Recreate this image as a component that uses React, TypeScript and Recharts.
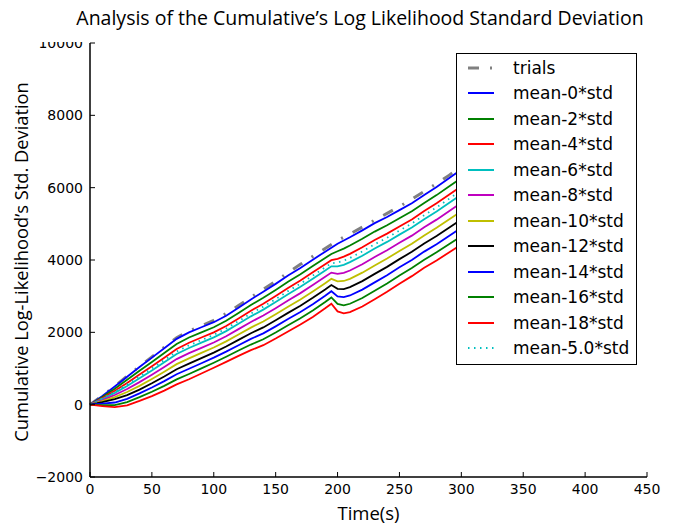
import { Label, Legend, Line, LineChart, XAxis, YAxis } from "recharts";

// time points (s)
const times = [
  0, 10, 20, 30, 40, 50, 60, 70, 80, 90, 100, 110, 120, 130, 140, 150, 160, 170, 180, 190,
  195, 200, 205, 210, 220, 230, 240, 250, 260, 270, 280, 290, 300,
];

const trials = [
  0, 250, 510, 790, 1060, 1320, 1590, 1850, 2040, 2180, 2330, 2520, 2740, 2970, 3190, 3410, 3650, 3880, 4100, 4320,
  4430, 4540, 4630, 4720, 4910, 5100, 5290, 5480, 5680, 5900, 6110, 6340, 6580,
];
const mean0 = [
  0, 240, 500, 770, 1040, 1300, 1560, 1820, 2000, 2140, 2280, 2460, 2680, 2910, 3120, 3340, 3570, 3780, 4010, 4230,
  4340, 4450, 4540, 4630, 4820, 5020, 5190, 5380, 5570, 5800, 6020, 6260, 6500,
];
const mean2 = [
  0, 212, 442, 686, 936, 1182, 1430, 1680, 1856, 1998, 2140, 2318, 2532, 2754, 2956, 3172, 3398, 3606, 3834, 4056,
  4168, 4242, 4316, 4400, 4586, 4786, 4960, 5154, 5346, 5576, 5794, 6032, 6270,
];
const mean4 = [
  0, 184, 384, 602, 832, 1064, 1300, 1540, 1712, 1856, 2000, 2176, 2384, 2598, 2792, 3004, 3226, 3432, 3658, 3882,
  3996, 4034, 4092, 4170, 4352, 4552, 4730, 4928, 5122, 5352, 5568, 5804, 6040,
];
const mean6 = [
  0, 156, 326, 518, 728, 946, 1170, 1400, 1568, 1714, 1860, 2034, 2236, 2442, 2628, 2836, 3054, 3258, 3482, 3708,
  3824, 3826, 3868, 3940, 4118, 4318, 4500, 4702, 4898, 5128, 5342, 5576, 5810,
];
const mean8 = [
  0, 128, 268, 434, 624, 828, 1040, 1260, 1424, 1572, 1720, 1892, 2088, 2286, 2464, 2668, 2882, 3084, 3306, 3534,
  3652, 3618, 3644, 3710, 3884, 4084, 4270, 4476, 4674, 4904, 5116, 5348, 5580,
];
const mean10 = [
  0, 100, 210, 350, 520, 710, 910, 1120, 1280, 1430, 1580, 1750, 1940, 2130, 2300, 2500, 2710, 2910, 3130, 3360,
  3480, 3410, 3420, 3480, 3650, 3850, 4040, 4250, 4450, 4680, 4890, 5120, 5350,
];
const mean12 = [
  0, 72, 152, 266, 416, 592, 780, 980, 1136, 1288, 1440, 1608, 1792, 1974, 2136, 2332, 2538, 2736, 2954, 3186,
  3308, 3202, 3196, 3250, 3416, 3616, 3810, 4024, 4226, 4456, 4664, 4892, 5120,
];
const mean14 = [
  0, 30, 60, 160, 312, 474, 650, 840, 992, 1146, 1300, 1466, 1644, 1818, 1972, 2164, 2366, 2562, 2778, 3012,
  3136, 2994, 2972, 3020, 3182, 3382, 3580, 3798, 4002, 4232, 4438, 4664, 4890,
];
const mean16 = [
  0, -10, -10, 70, 208, 356, 520, 700, 848, 1004, 1160, 1324, 1496, 1662, 1808, 1996, 2194, 2388, 2602, 2838,
  2964, 2786, 2748, 2790, 2948, 3148, 3350, 3572, 3778, 4008, 4212, 4436, 4660,
];
const mean18 = [
  0, -40, -70, -20, 104, 238, 390, 560, 704, 862, 1020, 1182, 1348, 1506, 1644, 1828, 2022, 2214, 2426, 2664,
  2792, 2578, 2524, 2560, 2714, 2914, 3120, 3346, 3554, 3784, 3986, 4208, 4430,
];
const mean5 = [
  0, 170, 355, 560, 780, 1005, 1235, 1470, 1640, 1785, 1930, 2105, 2310, 2520, 2710, 2920, 3140, 3345, 3570, 3795,
  3910, 3930, 3980, 4055, 4235, 4435, 4615, 4815, 5010, 5240, 5455, 5690, 5925,
];

const xTicks = [0, 50, 100, 150, 200, 250, 300, 350, 400, 450];
const yTicks = [-2000, 0, 2000, 4000, 6000, 8000, 10000];

const series = [
  { key: "trials", name: "trials", values: trials, color: "#808080", width: 3, dash: "11 11 2 11" },
  { key: "m0", name: "mean-0*std", values: mean0, color: "#0000ff", width: 1.8 },
  { key: "m2", name: "mean-2*std", values: mean2, color: "#008000", width: 1.8 },
  { key: "m4", name: "mean-4*std", values: mean4, color: "#ff0000", width: 1.8 },
  { key: "m6", name: "mean-6*std", values: mean6, color: "#00bfbf", width: 1.8 },
  { key: "m8", name: "mean-8*std", values: mean8, color: "#bf00bf", width: 1.8 },
  { key: "m10", name: "mean-10*std", values: mean10, color: "#bfbf00", width: 1.8 },
  { key: "m12", name: "mean-12*std", values: mean12, color: "#000000", width: 1.8 },
  { key: "m14", name: "mean-14*std", values: mean14, color: "#0000ff", width: 1.8 },
  { key: "m16", name: "mean-16*std", values: mean16, color: "#008000", width: 1.8 },
  { key: "m18", name: "mean-18*std", values: mean18, color: "#ff0000", width: 1.8 },
  { key: "m5", name: "mean-5.0*std", values: mean5, color: "#00bfbf", width: 1.8, dash: "1.5 4.5" },
];

const data = times.map((t, i) => {
  const row: Record<string, number> = { t };
  series.forEach((s) => {
    row[s.key] = s.values[i];
  });
  return row;
});

const tickFont = "'DejaVu Sans', sans-serif";
const labelFont = "'Open Sans', sans-serif";
const fmt = (v: number) => (v < 0 ? "\u2212" + Math.abs(v) : String(v));

const BottomTick = ({ x, y, payload }: any) => (
  <g>
    <line x1={x} x2={x} y1={y} y2={y - 5} stroke="#000" strokeWidth={1} />
    <text x={x} y={y + 17} textAnchor="middle" fontSize={14} fontFamily={tickFont} fill="#000">
      {fmt(payload.value)}
    </text>
  </g>
);
const TopTick = ({ x, y }: any) => <line x1={x} x2={x} y1={y} y2={y + 5} stroke="#000" strokeWidth={1} />;
const LeftTick = ({ x, y, payload }: any) => (
  <g>
    <line x1={x} x2={x + 5} y1={y} y2={y} stroke="#000" strokeWidth={1} />
    <text x={x - 7} y={y + 5} textAnchor="end" fontSize={14} fontFamily={tickFont} fill="#000">
      {fmt(payload.value)}
    </text>
  </g>
);
const RightTick = ({ x, y }: any) => <line x1={x} x2={x - 5} y1={y} y2={y} stroke="#000" strokeWidth={1} />;

const renderLegend = () => (
  <div
    style={{
      border: "1px solid #000",
      background: "#fff",
      width: 179,
      padding: "1px 0 3px 0",
      fontFamily: tickFont,
      fontSize: 17,
      color: "#000",
    }}
  >
    {series.map((s) => (
      <div key={s.key} style={{ display: "flex", alignItems: "center", height: 25.5 }}>
        <svg width={26} height={6} style={{ marginLeft: 11, marginRight: 19, flex: "none" }}>
          <line x1={0} x2={26} y1={3} y2={3} stroke={s.color} strokeWidth={s.key === "trials" ? 3 : 2} strokeDasharray={s.dash} />
        </svg>
        <span style={{ whiteSpace: "nowrap" }}>{s.name}</span>
      </div>
    ))}
  </div>
);

export default function App() {
  return (
    <div style={{ position: "absolute", left: 0, top: 0, width: 683, height: 524, background: "#fff" }}>
      <LineChart width={683} height={524} data={data} margin={{ top: 43, right: 36, bottom: 0, left: 0 }}>
        <XAxis
          dataKey="t"
          type="number"
          domain={[0, 450]}
          ticks={xTicks}
          height={47}
          tickSize={0}
          tickMargin={0}
          tick={<BottomTick />}
          axisLine={{ stroke: "#000", strokeWidth: 1.5 }}
          tickLine={false}
        >
          <Label value="Time(s)" position="insideBottom" offset={4} fontSize={18.5} fontFamily={labelFont} fill="#000" />
        </XAxis>
        <XAxis
          xAxisId="top"
          orientation="top"
          type="number"
          domain={[0, 450]}
          ticks={xTicks}
          height={0}
          tickSize={0}
          tickMargin={0}
          tick={<TopTick />}
          axisLine={{ stroke: "#000", strokeWidth: 1.5 }}
          tickLine={false}
        />
        <YAxis
          type="number"
          domain={[-2000, 10000]}
          ticks={yTicks}
          width={90}
          tickSize={0}
          tickMargin={0}
          tick={<LeftTick />}
          axisLine={{ stroke: "#000", strokeWidth: 1.5 }}
          tickLine={false}
        >
          <Label
            content={() => (
              <text
                transform="translate(28, 262) rotate(-90)"
                textAnchor="middle"
                fontSize={18.3}
                fontFamily={labelFont}
                fill="#000"
              >
                Cumulative Log-Likelihood’s Std. Deviation
              </text>
            )}
          />
        </YAxis>
        <YAxis
          yAxisId="right"
          orientation="right"
          type="number"
          domain={[-2000, 10000]}
          ticks={yTicks}
          width={0}
          tickSize={0}
          tickMargin={0}
          tick={<RightTick />}
          axisLine={{ stroke: "#000", strokeWidth: 1.5 }}
          tickLine={false}
        />
        {series.map((s) => (
          <Line
            key={s.key}
            dataKey={s.key}
            name={s.name}
            type="linear"
            stroke={s.color}
            strokeWidth={s.width}
            strokeDasharray={s.dash}
            dot={false}
            activeDot={false}
            isAnimationActive={false}
          />
        ))}
        <Legend
          layout="vertical"
          align="center"
          verticalAlign="middle"
          content={renderLegend}
          wrapperStyle={{ left: 456, top: 53, width: 181 }}
        />
      </LineChart>
      <div
        style={{
          position: "absolute",
          left: 38,
          top: 0,
          width: 644,
          height: 42,
          background: "#fff",
          textAlign: "center",
          fontFamily: labelFont,
          fontSize: 19.5,
          lineHeight: "36px",
          color: "#000",
        }}
      >
        Analysis of the Cumulative’s Log Likelihood Standard Deviation
      </div>
    </div>
  );
}
